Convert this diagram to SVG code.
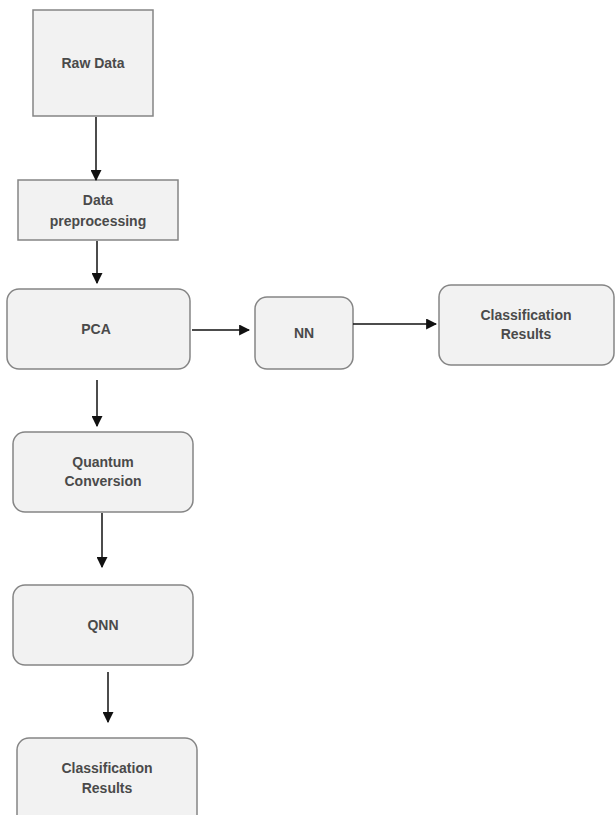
<svg xmlns="http://www.w3.org/2000/svg" width="615" height="815" viewBox="0 0 615 815">
<defs>
<marker id="ah" viewBox="0 0 10 10" refX="9" refY="5" markerWidth="11" markerHeight="11" markerUnits="userSpaceOnUse" orient="auto">
<path d="M0,0 L10,5 L0,10 z" fill="#111"/>
</marker>
</defs>
<style>
.n{fill:#f2f2f2;stroke:#858585;stroke-width:1.5}
.t{font-family:"Liberation Sans",Arial,sans-serif;font-size:14px;font-weight:bold;fill:#4a4a4a;text-anchor:middle}
.c{stroke:#111;stroke-width:1.5;fill:none;marker-end:url(#ah)}
</style>
<rect width="615" height="815" fill="#fff"/>
<g id="raw"><rect class="n" x="33" y="10" width="120" height="106"/><text class="t" x="93" y="68">Raw Data</text></g>
<g id="prep"><rect class="n" x="18" y="180" width="160" height="60"/><text class="t" x="98" y="205">Data</text><text class="t" x="98" y="226">preprocessing</text></g>
<g id="pca"><rect class="n" x="7" y="289" width="183" height="80" rx="12"/><text class="t" x="96" y="334">PCA</text></g>
<g id="nn"><rect class="n" x="255" y="297" width="98" height="72" rx="12"/><text class="t" x="304" y="338">NN</text></g>
<g id="cr1"><rect class="n" x="439" y="285" width="175" height="80" rx="12"/><text class="t" x="526" y="320">Classification</text><text class="t" x="526" y="339">Results</text></g>
<g id="qc"><rect class="n" x="13" y="432" width="180" height="80" rx="12"/><text class="t" x="103" y="467">Quantum</text><text class="t" x="103" y="486">Conversion</text></g>
<g id="qnn"><rect class="n" x="13" y="585" width="180" height="80" rx="12"/><text class="t" x="103" y="630">QNN</text></g>
<g id="cr2"><rect class="n" x="17" y="738" width="180" height="90" rx="12"/><text class="t" x="107" y="773">Classification</text><text class="t" x="107" y="793">Results</text></g>
<g id="connectors">
<line class="c" x1="96" y1="117" x2="96" y2="180"/>
<line class="c" x1="97" y1="241" x2="97" y2="283"/>
<line class="c" x1="192" y1="330" x2="249" y2="330"/>
<line class="c" x1="353" y1="324" x2="436" y2="324"/>
<line class="c" x1="97" y1="380" x2="97" y2="426"/>
<line class="c" x1="102" y1="513" x2="102" y2="567"/>
<line class="c" x1="108" y1="672" x2="108" y2="722"/>
</g>
</svg>
